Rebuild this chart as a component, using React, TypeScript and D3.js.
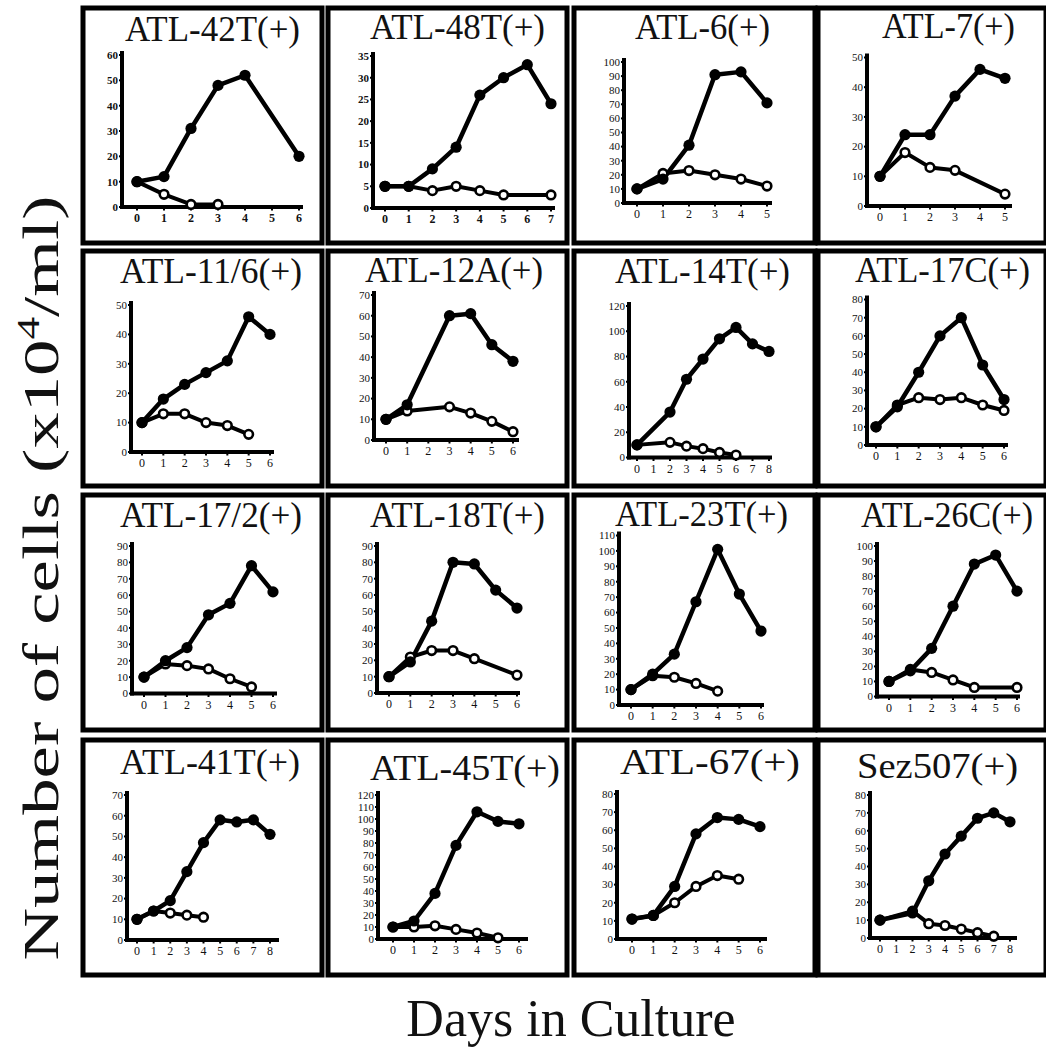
import React from 'react';
import * as d3 from 'd3';

// ---------- DATA ----------
const titles = [
  'ATL-42T(+)', 'ATL-48T(+)', 'ATL-6(+)', 'ATL-7(+)',
  'ATL-11/6(+)', 'ATL-12A(+)', 'ATL-14T(+)', 'ATL-17C(+)',
  'ATL-17/2(+)', 'ATL-18T(+)', 'ATL-23T(+)', 'ATL-26C(+)',
  'ATL-41T(+)', 'ATL-45T(+)', 'ATL-67(+)', 'Sez507(+)',
];
const xMaxes = [6, 7, 5, 5, 6, 6, 8, 6, 6, 6, 6, 6, 8, 6, 6, 8];
const yMaxes = [60, 35, 100, 50, 50, 70, 120, 80, 90, 90, 110, 100, 70, 120, 80, 80];
const ySteps = [10, 5, 10, 10, 10, 10, 20, 10, 10, 10, 10, 10, 10, 10, 10, 10];

const filledSeries: [number, number][][] = [
  [[0, 10], [1, 12], [2, 31], [3, 48], [4, 52], [6, 20]],
  [[0, 5], [1, 5], [2, 9], [3, 14], [4, 26], [5, 30], [6, 33], [7, 24]],
  [[0, 10], [1, 17], [2, 41], [3, 91], [4, 93], [5, 71]],
  [[0, 10], [1, 24], [2, 24], [3, 37], [4, 46], [5, 43]],
  [[0, 10], [1, 18], [2, 23], [3, 27], [4, 31], [5, 46], [6, 40]],
  [[0, 10], [1, 17], [3, 60], [4, 61], [5, 46], [6, 38]],
  [[0, 10], [2, 36], [3, 62], [4, 78], [5, 94], [6, 103], [7, 90], [8, 84]],
  [[0, 10], [1, 21], [2, 40], [3, 60], [4, 70], [5, 44], [6, 25]],
  [[0, 10], [1, 20], [2, 28], [3, 48], [4, 55], [5, 78], [6, 62]],
  [[0, 10], [1, 19], [2, 44], [3, 80], [4, 79], [5, 63], [6, 52]],
  [[0, 10], [1, 20], [2, 33], [3, 67], [4, 101], [5, 72], [6, 48]],
  [[0, 10], [1, 17], [2, 32], [3, 60], [4, 88], [5, 94], [6, 70]],
  [[0, 10], [1, 14], [2, 19], [3, 33], [4, 47], [5, 58], [6, 57], [7, 58], [8, 51]],
  [[0, 10], [1, 15], [2, 38], [3, 78], [4, 106], [5, 98], [6, 96]],
  [[0, 11], [1, 13], [2, 29], [3, 58], [4, 67], [5, 66], [6, 62]],
  [[0, 10], [2, 14], [3, 32], [4, 47], [5, 57], [6, 67], [7, 70], [8, 65]],
];

const openSeries: [number, number][][] = [
  [[0, 10], [1, 5], [2, 1], [3, 1]],
  [[0, 5], [1, 5], [2, 4], [3, 5], [4, 4], [5, 3], [7, 3]],
  [[0, 10], [1, 21], [2, 23], [3, 20], [4, 17], [5, 12]],
  [[0, 10], [1, 18], [2, 13], [3, 12], [5, 4]],
  [[0, 10], [1, 13], [2, 13], [3, 10], [4, 9], [5, 6]],
  [[0, 10], [1, 14], [3, 16], [4, 13], [5, 9], [6, 4]],
  [[0, 10], [2, 12], [3, 9], [4, 7], [5, 4], [6, 2]],
  [[0, 10], [1, 22], [2, 26], [3, 25], [4, 26], [5, 22], [6, 19]],
  [[0, 10], [1, 18], [2, 17], [3, 15], [4, 9], [5, 4]],
  [[0, 10], [1, 22], [2, 26], [3, 26], [4, 21], [6, 11]],
  [[0, 10], [1, 19], [2, 18], [3, 14], [4, 9]],
  [[0, 10], [1, 18], [2, 16], [3, 11], [4, 6], [6, 6]],
  [[0, 10], [1, 14], [2, 13], [3, 12], [4, 11]],
  [[0, 10], [1, 10], [2, 11], [3, 8], [4, 5], [5, 1]],
  [[0, 11], [1, 13], [2, 20], [3, 29], [4, 35], [5, 33]],
  [[0, 10], [2, 15], [3, 8], [4, 7], [5, 5], [6, 3], [7, 1]],
];

const yAxisLabel = 'Number of cells (x10';
const yAxisSup = '4';
const yAxisTail = '/ml)';
const xAxisLabel = 'Days in Culture';

// ---------- LAYOUT ----------
// box: [x, y, w, h]
const boxes = [
  [83, 8, 239, 235], [328, 8, 239, 235], [574, 8, 241, 235], [818, 8, 228, 235],
  [83, 251, 239, 235], [328, 251, 239, 235], [574, 251, 241, 235], [818, 251, 228, 235],
  [83, 495, 239, 235], [328, 495, 239, 235], [574, 495, 241, 235], [818, 495, 228, 235],
  [83, 740, 239, 235], [328, 740, 239, 235], [574, 740, 241, 235], [818, 740, 228, 235],
];
// plot: [yAxisX, day0 px, dayMax px, x-axis end px, y0 px, yMax px]
const plots = [
  [122, 137, 299, 301, 207, 55],
  [373, 385, 551, 553, 208, 56],
  [624, 637, 767, 770, 203, 62],
  [867, 880, 1005, 1010, 206, 57.5],
  [131, 142, 270, 272, 452, 305],
  [374, 386, 513, 517, 440, 295],
  [629, 637, 769, 770, 457.5, 306],
  [867, 876, 1004, 1006, 445, 299.5],
  [132, 144, 273, 275, 693.5, 546],
  [377, 389, 517, 518, 693, 546],
  [619, 631, 761, 762, 705, 535.5],
  [877, 889, 1017, 1018, 696.5, 546],
  [127, 137, 270, 277, 940, 795],
  [378, 393, 519, 526, 939, 795],
  [617, 632, 760, 765, 939, 794],
  [870, 880, 1010, 1015, 938, 795],
];
// title: [x, baseline y, width]
const titlePos = [
  [125, 41, 175], [370, 39, 175], [635, 39, 135], [882, 38, 133],
  [120, 283, 182], [365, 282, 178], [615, 283, 175], [855, 282, 175],
  [120, 527, 182], [370, 527, 175], [615, 526, 173], [861, 527, 172],
  [120, 774, 180], [370, 780, 190], [620, 774, 180], [857, 778, 161],
];
const boldTicks = [true, true, false, false, false, false, false, false, false, false, false, false, false, false, false, false];

const INK = '#111';

function Panel({ i }: { i: number }) {
  const [bx, by, bw, bh] = boxes[i];
  const [ax, d0, d1, xEnd, py0, py1] = plots[i];
  const x = d3.scaleLinear().domain([0, xMaxes[i]]).range([d0, d1]);
  const y = d3.scaleLinear().domain([0, yMaxes[i]]).range([py0, py1]);
  const line = d3.line<[number, number]>().x(d => x(d[0])).y(d => y(d[1]));
  const yTicks = d3.range(0, yMaxes[i] + 0.001, ySteps[i]);
  const xTicks = d3.range(0, xMaxes[i] + 1, 1);
  const fw = boldTicks[i] ? 'bold' : 'normal';
  const [tx, ty, tw] = titlePos[i];
  return (
    <g>
      <rect x={bx} y={by} width={bw} height={bh} fill="#fff" stroke="#000" strokeWidth={5} />
      <text x={tx} y={ty} fontSize={36} fill={INK} textLength={tw} lengthAdjust="spacingAndGlyphs">{titles[i]}</text>
      {/* axes */}
      <line x1={ax} x2={ax} y1={py1 - 2} y2={py0} stroke="#000" strokeWidth={4} strokeLinecap="square" />
      <line x1={ax} x2={xEnd} y1={py0} y2={py0} stroke="#000" strokeWidth={4} strokeLinecap="square" />
      {yTicks.map(t => (
        <g key={'y' + t}>
          <line x1={ax - 3} x2={ax} y1={y(t)} y2={y(t)} stroke="#000" strokeWidth={2} />
          <text x={ax - 4} y={y(t)} dy="0.35em" textAnchor="end" fontSize={11} fontWeight={fw} fill={INK}>{t}</text>
        </g>
      ))}
      {xTicks.map(t => (
        <g key={'x' + t}>
          <line x1={x(t)} x2={x(t)} y1={py0} y2={py0 + 3.5} stroke="#000" strokeWidth={2} />
          <text x={x(t)} y={py0 + 15} textAnchor="middle" fontSize={12} fontWeight={fw} fill={INK}>{t}</text>
        </g>
      ))}
      {/* open series */}
      <path d={line(openSeries[i]) || ''} fill="none" stroke="#000" strokeWidth={4} strokeLinejoin="round" />
      {/* filled series */}
      <path d={line(filledSeries[i]) || ''} fill="none" stroke="#000" strokeWidth={4.5} strokeLinejoin="round" />
      {openSeries[i].map((d, k) => (
        <circle key={'o' + k} cx={x(d[0])} cy={y(d[1])} r={4.3} fill="#fff" stroke="#000" strokeWidth={2.6} />
      ))}
      {filledSeries[i].map((d, k) => (
        <circle key={'f' + k} cx={x(d[0])} cy={y(d[1])} r={5.6} fill="#000" />
      ))}
    </g>
  );
}

export default function App() {
  return (
    <svg width={1046} height={1049} style={{ position: 'absolute', left: 0, top: 0, background: '#fff' }}
      fontFamily="'Liberation Serif', 'Times New Roman', serif">
      <rect x={0} y={0} width={1046} height={1049} fill="#fff" />
      {titles.map((_, i) => <Panel key={i} i={i} />)}
      <text transform="translate(58,578) rotate(-90)" textAnchor="middle" fontSize={50} fill={INK}
        textLength={765} lengthAdjust="spacingAndGlyphs">
        {yAxisLabel}<tspan fontSize={31} dy={-19}>{yAxisSup}</tspan><tspan dy={19}>{yAxisTail}</tspan>
      </text>
      <text x={571} y={1036} textAnchor="middle" fontSize={52} fill={INK}>{xAxisLabel}</text>
    </svg>
  );
}
